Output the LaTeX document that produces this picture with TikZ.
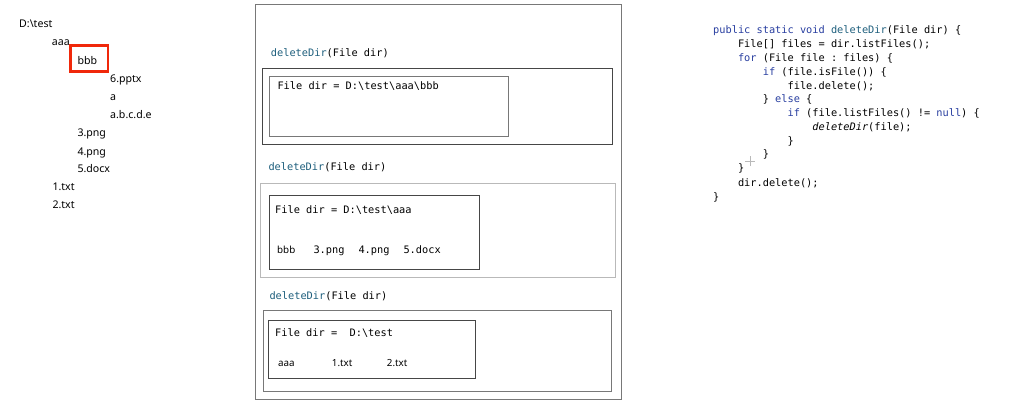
\documentclass[tikz,border=0pt]{standalone}
\usepackage{fontspec}
\setmainfont{Noto Sans}
\setmonofont{DejaVu Sans Mono}
\newfontfamily\treefont{Noto Sans}
\definecolor{kw}{RGB}{40,62,160}
\definecolor{meth}{RGB}{30,95,125}
\definecolor{boxred}{RGB}{240,40,10}
\definecolor{dk}{RGB}{70,70,70}
\definecolor{md}{RGB}{120,120,120}
\definecolor{lt}{RGB}{185,185,185}
\newcommand{\kwd}[1]{\textcolor{kw}{#1}}
\newcommand{\mth}[1]{\textcolor{meth}{#1}}
\newcommand{\bsl}{\textbackslash}
\begin{document}
\begin{tikzpicture}[x=1pt,y=-1pt,
  tree/.style={anchor=base west,inner sep=0pt,font=\treefont\fontsize{10.6}{12}\selectfont},
  code/.style={anchor=base west,inner sep=0pt,font=\ttfamily\fontsize{10.3}{12}\selectfont},
  small/.style={anchor=base west,inner sep=0pt,font=\treefont\fontsize{9.8}{11}\selectfont}]
\useasboundingbox[fill=white] (0,0) rectangle (1014,401);

% ---------------- tree ----------------
\node[tree] (t0) at (19,27.5) {D:\bsl test};
\node[tree] (t1) at (51.7,45.8) {aaa};
\node[tree] (t2) at (77.3,64.2) {bbb};
\node[tree] (t3) at (110,82.8) {6.pptx};
\node[tree] (t4) at (110,100.8) {a};
\node[tree] (t5) at (110,118.5) {a.b.c.d.e};
\node[tree] (t6) at (77.3,136.8) {3.png};
\node[tree] (t7) at (77.3,155.2) {4.png};
\node[tree] (t8) at (77.3,172.8) {5.docx};
\node[tree] (t9) at (52.3,190.8) {1.txt};
\node[tree] (t10) at (52.3,208.5) {2.txt};
\draw[boxred,line width=2.8pt] (70.5,45.4) rectangle (107.9,71.3);

% ---------------- middle panel ----------------
\draw[md,line width=0.9pt] (255,4.5) rectangle (621,399.5);

\node[code] (l1) at (270.7,56.3) {\mth{deleteDir}(File dir)};
\draw[dk,line width=0.9pt] (262.5,68.5) rectangle (612.3,144.3);
\draw[md,line width=0.9pt] (269.5,76.5) rectangle (508,136);
\node[code] (f1) at (277.3,89.5) {File dir = D:\bsl test\bsl aaa\bsl bbb};

\node[code] (l2) at (268.3,170.2) {\mth{deleteDir}(File dir)};
\draw[lt,line width=0.9pt] (260,183.3) rectangle (615,277.7);
\draw[dk,line width=0.9pt] (269.3,195.7) rectangle (479.3,269);
\node[code] (f2) at (275,213.5) {File dir = D:\bsl test\bsl aaa};
\node[small] (c21) at (277,253.5) {bbb};
\node[code] (c22) at (313.3,253.5) {3.png};
\node[code] (c23) at (358.3,253.5) {4.png};
\node[code] (c24) at (403.3,253.5) {5.docx};

\node[code] (l3) at (269.3,299.2) {\mth{deleteDir}(File dir)};
\draw[md,line width=0.9pt] (263.3,310) rectangle (611.7,391);
\draw[dk,line width=0.9pt] (268.3,320.7) rectangle (475.7,378.3);
\node[code] (f3) at (275,336.5) {File dir =\ \ D:\bsl test};
\node[small] (c31) at (278,366.3) {aaa};
\node[small] (c32) at (331.7,366.3) {1.txt};
\node[small] (c33) at (386.7,366.3) {2.txt};

% ---------------- code ----------------
\def\cw{6.2}
\node[code] (k1) at (713,33.5) {\kwd{public static void} \mth{deleteDir}(File dir) \{};
\node[code] (k2) at (713+4*\cw,47.4) {File[] files = dir.listFiles();};
\node[code] (k3) at (713+4*\cw,61.3) {\kwd{for} (File file : files) \{};
\node[code] (k4) at (713+8*\cw,75.2) {\kwd{if} (file.isFile()) \{};
\node[code] (k5) at (713+12*\cw,89.1) {file.delete();};
\node[code] (k6) at (713+8*\cw,103) {\} \kwd{else} \{};
\node[code] (k7) at (713+12*\cw,116.9) {\kwd{if} (file.listFiles() != \kwd{null}) \{};
\node[code] (k8) at (713+16*\cw,130.8) {\textit{deleteDir}(file);};
\node[code] (k9) at (713+12*\cw,144.7) {\}};
\node[code] (k10) at (713+8*\cw,157.5) {\}};
\node[code] (k11) at (713+4*\cw,171.5) {\}};
\node[code] (k12) at (713+4*\cw,186.2) {dir.delete();};
\node[code] (k13) at (713,200.1) {\}};

% cursor artefact
\coordinate (cur) at (750,161);
\draw[lt,line width=0.6pt] ([xshift=-5pt]cur) -- ([xshift=5pt]cur) ([yshift=-5pt]cur) -- ([yshift=5pt]cur);
\end{tikzpicture}
\end{document}
